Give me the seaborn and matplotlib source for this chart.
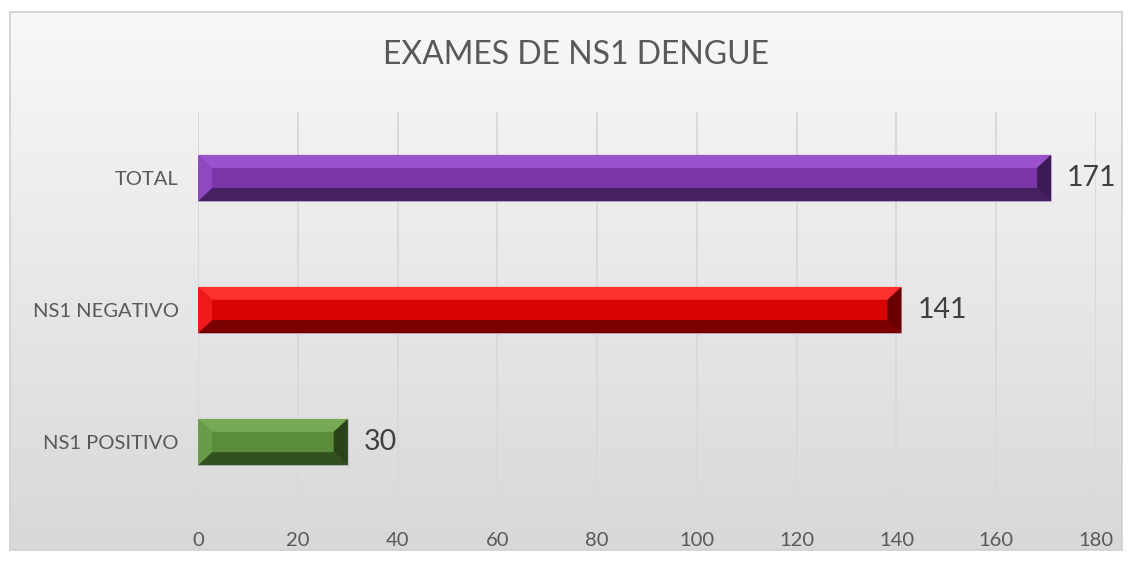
import numpy as np
import pandas as pd
import matplotlib
matplotlib.use("Agg")
import matplotlib.pyplot as plt
from matplotlib.patches import Polygon
from matplotlib.colors import LinearSegmentedColormap
import seaborn as sns

categories = ["TOTAL", "NS1 NEGATIVO", "NS1 POSITIVO"]
values = [171, 141, 30]
x_ticks = [0, 20, 40, 60, 80, 100, 120, 140, 160, 180]
title = "EXAMES DE NS1 DENGUE"

mid_colors = ["#7a36a8", "#d80404", "#5b8c3a"]
light_colors = ["#9c52cc", "#ff3030", "#78aa55"]
dark_colors = ["#46205f", "#7a0000", "#33501f"]
side_dark = ["#3c1a55", "#6a0000", "#2a421a"]
side_light = ["#8e48c0", "#f01a1a", "#6a9c48"]

sns.set_theme(style="white")
plt.rcParams['font.family'] = ['Lato', 'DejaVu Sans']

W, H = 1132, 562
fig = plt.figure(figsize=(W / 100, H / 100), dpi=100)
fig.patch.set_facecolor("white")

# chart frame with vertical gradient
bg = fig.add_axes([10 / W, 1 - 550 / H, 1112 / W, 538 / H])
grad = np.linspace(0, 1, 256).reshape(-1, 1)
cmap = LinearSegmentedColormap.from_list("bg", ["#f8f8f8", "#d8d8d8"])
bg.imshow(grad, aspect="auto", cmap=cmap, extent=[0, 1, 0, 1], origin="upper")
bg.set_xticks([]); bg.set_yticks([])
for s in bg.spines.values():
    s.set_color("#d0d0d0"); s.set_linewidth(1.2)
bg.set_zorder(0)

ax = fig.add_axes([198 / W, 1 - 508 / H, 898 / W, 396 / H])
ax.set_zorder(1)
ax.patch.set_alpha(0)

df = pd.DataFrame({"cat": categories, "val": values})
sns.barplot(data=df, x="val", y="cat", hue="cat", palette=mid_colors, legend=False,
            width=0.35, saturation=1, ax=ax, edgecolor="#c8b8d8", linewidth=0.6, zorder=3)

ax.set_xlim(0, 180)
ax.set_xticks(x_ticks)
ax.set_xlabel(""); ax.set_ylabel("")
ax.xaxis.grid(True, color="#d9d9d9", linewidth=1.4, zorder=0)
ax.yaxis.grid(False)
for s in ax.spines.values():
    s.set_visible(False)
ax.tick_params(axis="x", colors="#595959", labelsize=14.5, length=0, pad=17)
ax.tick_params(axis="y", colors="#595959", labelsize=14.5, length=0, pad=14)

# bevel overlays derived from bar patches
for i, p in enumerate(ax.patches):
    x0, y0 = p.get_x(), p.get_y()
    w, h = p.get_width(), p.get_height()
    x1, y1 = x0 + w, y0 + h
    bx = 2.8
    by = h * 0.28
    # y axis inverted: y0 is visually the top edge
    top = Polygon([[x0, y0], [x1, y0], [x1 - bx, y0 + by], [x0 + bx, y0 + by]],
                  closed=True, facecolor=light_colors[i], edgecolor="none", zorder=4)
    bot = Polygon([[x0, y1], [x1, y1], [x1 - bx, y1 - by], [x0 + bx, y1 - by]],
                  closed=True, facecolor=dark_colors[i], edgecolor="none", zorder=4)
    left = Polygon([[x0, y0], [x0 + bx, y0 + by], [x0 + bx, y1 - by], [x0, y1]],
                   closed=True, facecolor=side_light[i], edgecolor="none", zorder=4)
    right = Polygon([[x1, y0], [x1 - bx, y0 + by], [x1 - bx, y1 - by], [x1, y1]],
                    closed=True, facecolor=side_dark[i], edgecolor="none", zorder=4)
    for poly in (top, bot, left, right):
        ax.add_patch(poly)
    ax.text(x1 + 3.2, (y0 + y1) / 2, f"{values[i]}", va="center", ha="left",
            fontsize=20.5, color="#404040", zorder=5)

fig.text(576 / W, 1 - 55 / H, title, ha="center", va="center", fontsize=23, color="#595959")

fig.savefig("out.png", dpi=100)
